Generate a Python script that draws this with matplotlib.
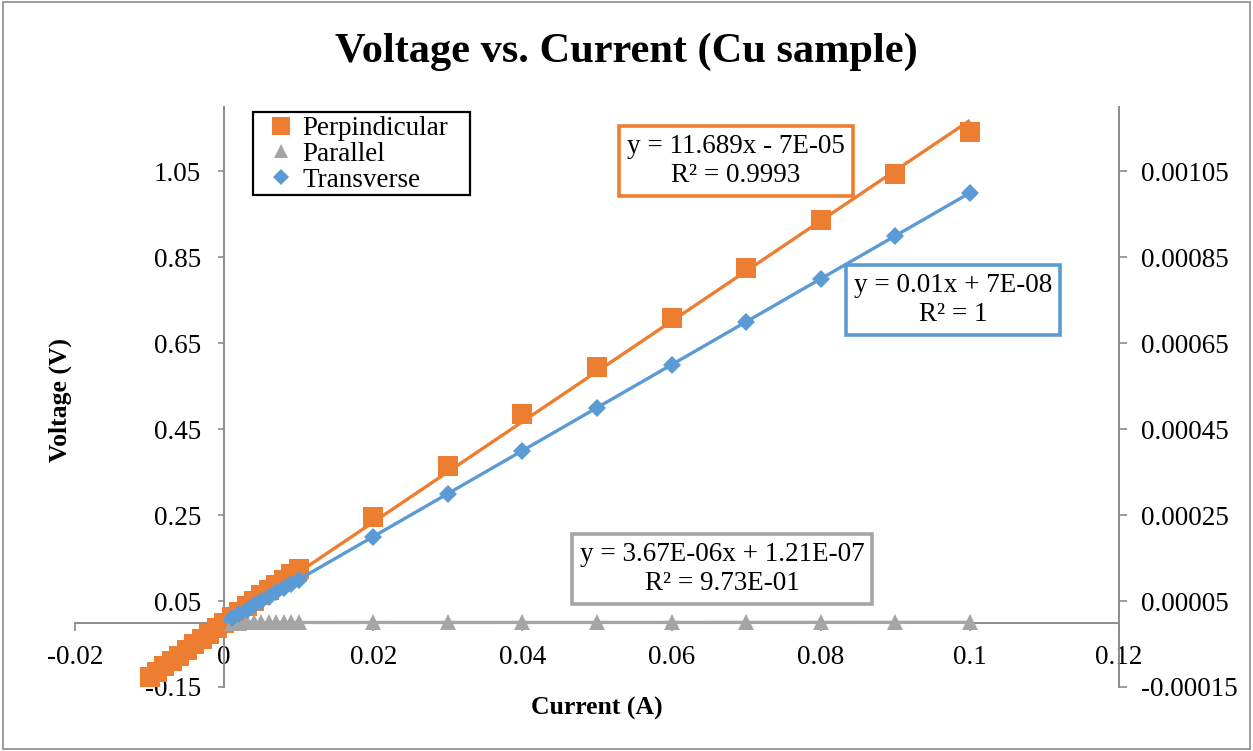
import numpy as np
import matplotlib
matplotlib.use('Agg')
import matplotlib.pyplot as plt
from matplotlib.patches import Rectangle

plt.rcParams['font.family'] = ['Liberation Serif', 'DejaVu Serif']

# ---------------- data ----------------
current_perp = [-0.010, -0.009, -0.008, -0.007, -0.006, -0.005, -0.004, -0.003, -0.002, -0.001,
                0.000, 0.001, 0.002, 0.003, 0.004, 0.005, 0.006, 0.007, 0.008, 0.009, 0.010,
                0.02, 0.03, 0.04, 0.05, 0.06, 0.07, 0.08, 0.09, 0.10]
voltage_perp = [-0.1275, -0.115, -0.102, -0.089, -0.077, -0.064, -0.051, -0.038, -0.026, -0.013,
                0.000, 0.0125, 0.025, 0.038, 0.050, 0.063, 0.075, 0.088, 0.100, 0.113, 0.125,
                0.245, 0.364, 0.485, 0.595, 0.709, 0.826, 0.937, 1.043, 1.141]

current_par = [0.001, 0.002, 0.003, 0.004, 0.005, 0.006, 0.007, 0.008, 0.009, 0.010,
               0.02, 0.03, 0.04, 0.05, 0.06, 0.07, 0.08, 0.09, 0.10]
voltage_par = [1.24e-7, 1.29e-7, 1.31e-7, 1.36e-7, 1.38e-7, 1.43e-7, 1.46e-7, 1.50e-7, 1.52e-7, 1.57e-7,
               1.92e-7, 2.33e-7, 2.66e-7, 3.05e-7, 3.42e-7, 3.73e-7, 4.12e-7, 4.49e-7, 4.84e-7]

current_trans = [0.001, 0.002, 0.003, 0.004, 0.005, 0.006, 0.007, 0.008, 0.009, 0.010,
                 0.02, 0.03, 0.04, 0.05, 0.06, 0.07, 0.08, 0.09, 0.10]
voltage_trans = [1.0e-5, 2.0e-5, 3.0e-5, 4.0e-5, 5.0e-5, 6.0e-5, 7.0e-5, 8.0e-5, 9.0e-5, 1.0e-4,
                 2.0e-4, 3.0e-4, 4.0e-4, 5.0e-4, 6.0e-4, 7.0e-4, 8.0e-4, 9.0e-4, 1.0e-3]

perp_fit = (11.689, -7e-05)
par_fit = (3.67e-06, 1.21e-07)
trans_fit = (0.01, 7e-08)

perp_eq = "y = 11.689x - 7E-05\nR² = 0.9993"
trans_eq = "y = 0.01x + 7E-08\nR² = 1"
par_eq = "y = 3.67E-06x + 1.21E-07\nR² = 9.73E-01"

x_ticks = [-0.02, 0.0, 0.02, 0.04, 0.06, 0.08, 0.10, 0.12]
x_tick_labels = ['-0.02', '0', '0.02', '0.04', '0.06', '0.08', '0.1', '0.12']
left_ticks = [-0.15, 0.05, 0.25, 0.45, 0.65, 0.85, 1.05]
left_tick_labels = ['-0.15', '0.05', '0.25', '0.45', '0.65', '0.85', '1.05']
right_ticks = [-0.00015, 0.00005, 0.00025, 0.00045, 0.00065, 0.00085, 0.00105]
right_tick_labels = ['-0.00015', '0.00005', '0.00025', '0.00045', '0.00065', '0.00085', '0.00105']

title = "Voltage vs. Current (Cu sample)"
x_label = "Current (A)"
y_label = "Voltage (V)"
series_names = ["Perpindicular", "Parallel", "Transverse"]

# ---------------- style ----------------
ORANGE = '#ED7D31'
GRAY = '#A5A5A5'
BLUE = '#5B9BD5'
AXIS = '#8C8C8C'
FS = 19.5

W, H = 1253, 751
fig = plt.figure(figsize=(W / 100, H / 100), dpi=100)
fig.patches.append(Rectangle((0.002, 0.002), 0.996, 0.996, transform=fig.transFigure,
                             fill=False, edgecolor='#8C8C8C', linewidth=1.2))

left_px, right_px, top_px, bot_px = 75, 1119, 107, 687
ax = fig.add_axes([left_px / W, 1 - bot_px / H, (right_px - left_px) / W, (bot_px - top_px) / H])
ax.set_xlim(-0.02, 0.12)
ax.set_ylim(-0.15, 1.2)
ax2 = ax.twinx()
ax2.set_ylim(-0.00015, 0.0012)
ax.patch.set_visible(False)

# spines
ax.spines['left'].set_position(('data', 0))
ax.spines['bottom'].set_position(('data', 0))
ax.spines['top'].set_visible(False)
ax.spines['right'].set_visible(False)
for s in ['left', 'bottom']:
    ax.spines[s].set_color(AXIS)
    ax.spines[s].set_linewidth(1.4)
for s in ['left', 'top', 'bottom']:
    ax2.spines[s].set_visible(False)
ax2.spines['right'].set_color(AXIS)
ax2.spines['right'].set_linewidth(1.4)

ax.set_xticks(x_ticks)
ax.set_xticklabels(x_tick_labels)
ax.set_yticks(left_ticks)
ax.set_yticklabels(left_tick_labels)
ax2.set_yticks(right_ticks)
ax2.set_yticklabels(right_tick_labels)
ax.tick_params(axis='x', direction='out', length=5.5, width=1.2, color=AXIS, pad=11, labelsize=FS)
ax.tick_params(axis='y', direction='out', length=4.5, width=1.2, color=AXIS, pad=12, labelsize=FS)
ax2.tick_params(axis='y', direction='out', length=5.5, width=1.2, color=AXIS, pad=10, labelsize=FS)

# series
h1, = ax.plot(current_perp, voltage_perp, linestyle='none', marker='s', markersize=14.5,
              markeredgewidth=0, color=ORANGE, zorder=3, label=series_names[0])
xx = np.array([min(current_perp), max(current_perp)])
ax.plot(xx, perp_fit[0] * xx + perp_fit[1], color=ORANGE, linewidth=2.4, zorder=4,
        solid_capstyle='butt')

h2, = ax2.plot(current_par, voltage_par, linestyle='none', marker='^', markersize=12,
               markeredgewidth=0, color=GRAY, zorder=3, label=series_names[1])
xp = np.array([min(current_par), max(current_par)])
ax2.plot(xp, par_fit[0] * xp + par_fit[1], color=GRAY, linewidth=2.4, zorder=4)

h3, = ax2.plot(current_trans, voltage_trans, linestyle='none', marker='D', markersize=9.2,
               markeredgewidth=0, color=BLUE, zorder=5, label=series_names[2])
xt = np.array([0.0, max(current_trans)])
ax2.plot(xt, trans_fit[0] * xt + trans_fit[1], color=BLUE, linewidth=2.4, zorder=6,
         solid_capstyle='butt')

# labels
fig.text(0.5, 1 - 52 / H, title, ha='center', va='center', fontsize=30.5, fontweight='bold')
fig.text(597 / W, 1 - 708 / H, x_label, ha='center', va='center', fontsize=FS - 1, fontweight='bold')
fig.text(60 / W, 1 - 400 / H, y_label, ha='center', va='center', fontsize=FS - 1,
         fontweight='bold', rotation=90)

# equation boxes
def eqbox(text, cx, cy, color):
    fig.text(cx / W, 1 - cy / H, text, ha='center', va='center', fontsize=FS,
             multialignment='center', linespacing=1.2,
             bbox=dict(boxstyle='square,pad=0.3', facecolor='white', edgecolor=color, linewidth=2.6),
             zorder=10)

eqbox(perp_eq, 736, 161, ORANGE)
eqbox(trans_eq, 953, 300, BLUE)
eqbox(par_eq, 722, 569, GRAY)

# legend (frame drawn separately to match the reference box size)
ax2.add_patch(Rectangle((253 / W, 1 - 195 / H), (470 - 253) / W, (195 - 112) / H,
                        transform=fig.transFigure, facecolor='white', edgecolor='black',
                        linewidth=1.6, zorder=19, clip_on=False))
leg = ax2.legend(handles=[h1, h2, h3], loc='upper left',
                 bbox_to_anchor=(263 / W, 1 - 112 / H), bbox_transform=fig.transFigure,
                 fontsize=FS, frameon=False,
                 borderaxespad=0, borderpad=0.15, labelspacing=0.03, handlelength=1.0,
                 handletextpad=0.3, markerscale=0.85)
leg.set_zorder(20)

fig.savefig('out.png', dpi=100)
